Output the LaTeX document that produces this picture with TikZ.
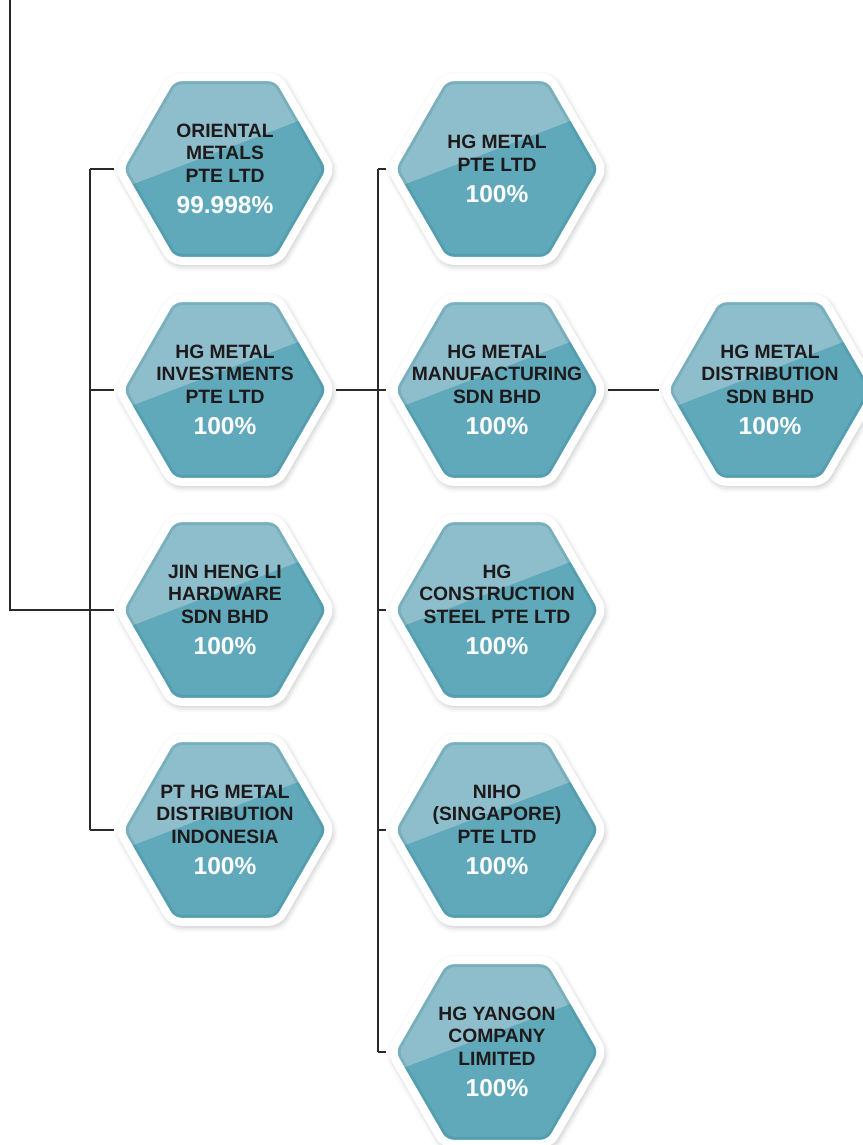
\documentclass[tikz,border=0pt]{standalone}
\usepackage{fontspec}
\setmainfont{Liberation Sans}
\usepackage{xcolor}
\usepackage{tikz}
\usetikzlibrary{shapes.geometric, positioning, calc, backgrounds, shadows.blur}
\definecolor{tealbase}{HTML}{5FA9BA}
\definecolor{teallight}{HTML}{8EBECB}
\definecolor{tealrim}{HTML}{2F7A8A}
\definecolor{inkdark}{HTML}{1E1A1B}
\definecolor{linkgray}{HTML}{2A2A2A}
\newcommand{\pct}[1]{{\color{white}\fontsize{24.5}{28}\selectfont #1}}
\tikzset{
  hexbox/.style={regular polygon, regular polygon sides=6, minimum size=212pt, inner sep=0pt,
    rounded corners=9pt, fill=tealbase, draw=white, line width=8pt,
    blur shadow={shadow xshift=1.5pt, shadow yshift=-2.5pt, shadow blur radius=8pt, shadow opacity=40},
    path picture={
      \fill[teallight] ([shift={(-115pt,-24pt)}]path picture bounding box.center)
        -- ([shift={(115pt,64pt)}]path picture bounding box.center)
        -- ([shift={(115pt,115pt)}]path picture bounding box.center)
        -- ([shift={(-115pt,115pt)}]path picture bounding box.center) -- cycle;
      \node[regular polygon, regular polygon sides=6, minimum size=212pt, inner sep=0pt,
        rounded corners=9pt, draw=tealrim, line width=14pt, opacity=.22]
        at (path picture bounding box.center) {};
    }},
  nametext/.style={font=\bfseries\fontsize{19.3}{22.5}\selectfont, text=inkdark, align=center, inner sep=0pt},
  link/.style={draw=linkgray, line width=1.1pt},
}

\begin{document}
\begin{tikzpicture}[x=1pt, y=1pt]
  \useasboundingbox (0,0) rectangle (862,-1145);

  % first column
  \node[hexbox, label={[nametext]center:{ORIENTAL\\METALS\\PTE LTD\\[9pt]\pct{99.998\%}}}] (om) at (225,-169) {};
  \node[hexbox, label={[nametext]center:{HG METAL\\INVESTMENTS\\PTE LTD\\[9pt]\pct{100\%}}}] (hi) at (225,-390) {};
  \node[hexbox, label={[nametext]center:{JIN HENG LI\\HARDWARE\\SDN BHD\\[9pt]\pct{100\%}}}] (jh) at (225,-610) {};
  \node[hexbox, label={[nametext]center:{PT HG METAL\\DISTRIBUTION\\INDONESIA\\[9pt]\pct{100\%}}}] (pt) at (225,-830) {};

  % second column
  \node[hexbox, label={[nametext]center:{HG METAL\\PTE LTD\\[9pt]\pct{100\%}}}] (hgm) at (497,-169) {};
  \node[hexbox, label={[nametext]center:{HG METAL\\MANUFACTURING\\SDN BHD\\[9pt]\pct{100\%}}}] (hmm) at (497,-390) {};
  \node[hexbox, label={[nametext]center:{HG\\CONSTRUCTION\\STEEL PTE LTD\\[9pt]\pct{100\%}}}] (hgc) at (497,-610) {};
  \node[hexbox, label={[nametext]center:{NIHO\\(SINGAPORE)\\PTE LTD\\[9pt]\pct{100\%}}}] (niho) at (497,-830) {};
  \node[hexbox, label={[nametext]center:{HG YANGON\\COMPANY\\LIMITED\\[9pt]\pct{100\%}}}] (hgy) at (497,-1052) {};

  % third column
  \node[hexbox, label={[nametext]center:{HG METAL\\DISTRIBUTION\\SDN BHD\\[9pt]\pct{100\%}}}] (hdd) at (770,-390) {};

  % connectors
  \coordinate (top) at (10,0);
  \coordinate (bus1) at (90,0);
  \coordinate (bus2) at (378,0);
  \begin{scope}[on background layer]
    \draw[link] (top) |- (jh.west);
    \draw[link] (om.west -| bus1) -- (pt.west -| bus1);
    \foreach \n in {om,hi,jh,pt}
      \draw[link] (\n.west -| bus1) -- (\n.west);
    \draw[link] (hgm.west -| bus2) -- (hgy.west -| bus2);
    \foreach \n in {hgm,hgc,niho,hgy}
      \draw[link] (\n.west -| bus2) -- (\n.west);
    \draw[link] (hi.east) -- (hmm.west);
    \draw[link] (hmm.east) -- (hdd.west);
  \end{scope}
\end{tikzpicture}
\end{document}
